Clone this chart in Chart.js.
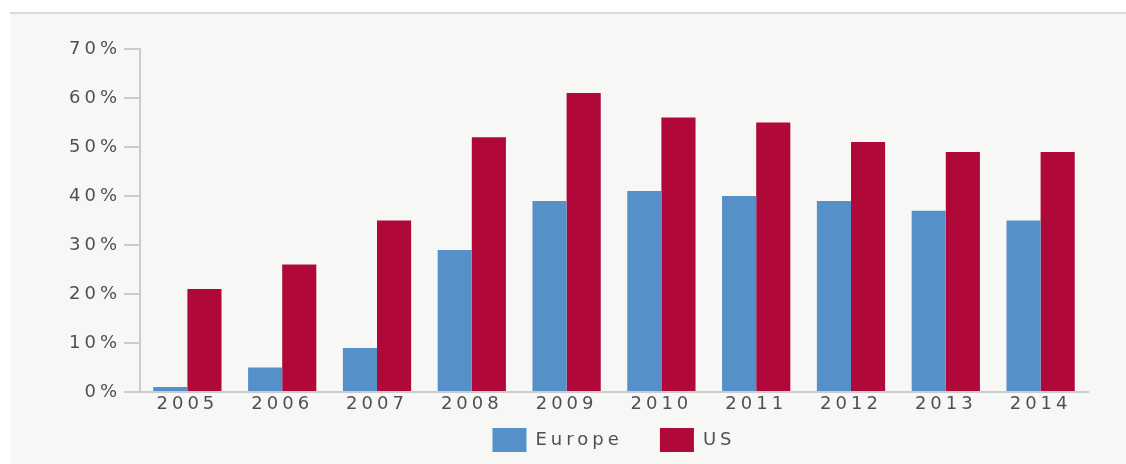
<!DOCTYPE html>
<html>
<head>
<meta charset="utf-8">
<script src="https://cdn.jsdelivr.net/npm/chart.js@4/dist/chart.umd.min.js"></script>
<style>
    html, body { margin: 0; padding: 0; background: #ffffff; }
    #panel {
        position: absolute;
        left: 10px;
        top: 12px;
        width: 1116px;
        height: 452px;
        overflow: hidden;
        background: #f7f8f6;
        border-top: 2px solid #d9d9de;
    }
    #chart { display: block; }
</style>
</head>
<body>
<div id="panel">
    <canvas id="chart" width="1116" height="448"></canvas>
</div>
<script>
// Share of respondents by year
const years = ['2005', '2006', '2007', '2008', '2009', '2010', '2011', '2012', '2013', '2014'];
const europeValues = [1, 5, 9, 29, 39, 41, 40, 39, 37, 35];
const usValues = [21, 26, 35, 52, 61, 56, 55, 51, 49, 49];

const textColor = '#505050';
const axisColor = '#c9ccd3';
const labelFont = { family: '"DejaVu Sans", sans-serif', size: 18 };

// wide tracking on all text, and the legend centred under the plot area
const layoutTweaks = {
    id: 'layoutTweaks',
    beforeLayout(chart) { chart.ctx.letterSpacing = '4px'; },
    afterLayout(chart) {
        chart.legend.left = chart.chartArea.left;
        chart.legend.right = chart.chartArea.right;
    },
    beforeDraw(chart) { chart.ctx.letterSpacing = '4px'; }
};

const ctx = document.getElementById('chart').getContext('2d');

new Chart(ctx, {
    type: 'bar',
    data: {
        labels: years,
        datasets: [
            {
                label: 'Europe',
                data: europeValues,
                backgroundColor: '#5590c8',
                borderWidth: 0
            },
            {
                label: 'US',
                data: usValues,
                backgroundColor: '#b00838',
                borderWidth: 0
            }
        ]
    },
    options: {
        responsive: false,
        animation: false,
        layout: {
            padding: { top: 35, right: 38, bottom: 0, left: 0 }
        },
        datasets: {
            bar: {
                categoryPercentage: 0.72,
                barPercentage: 1
            }
        },
        scales: {
            x: {
                afterFit: function (scale) { scale.height = 28; },
                grid: { drawOnChartArea: false, drawTicks: false },
                border: { color: axisColor, width: 2 },
                ticks: { color: textColor, font: labelFont, padding: 2 }
            },
            y: {
                min: 0,
                max: 70,
                afterFit: function (scale) { scale.width = 130; },
                grid: { drawOnChartArea: false, tickLength: 16, color: axisColor, lineWidth: 2 },
                border: { color: axisColor, width: 2 },
                ticks: {
                    stepSize: 10,
                    color: textColor,
                    font: labelFont,
                    padding: 3,
                    callback: function (value) { return value + '%'; }
                }
            }
        },
        plugins: {
            legend: {
                position: 'bottom',
                labels: {
                    color: textColor,
                    font: labelFont,
                    boxWidth: 34,
                    boxHeight: 24,
                    padding: 8,
                    generateLabels: function (chart) {
                        const items = Chart.defaults.plugins.legend.labels.generateLabels(chart);
                        // extra room between legend entries
                        items.forEach((item, i) => {
                            if (i < items.length - 1) item.text += '   ';
                        });
                        return items;
                    }
                }
            },
            tooltip: { enabled: false }
        }
    },
    plugins: [layoutTweaks]
});
</script>
</body>
</html>
